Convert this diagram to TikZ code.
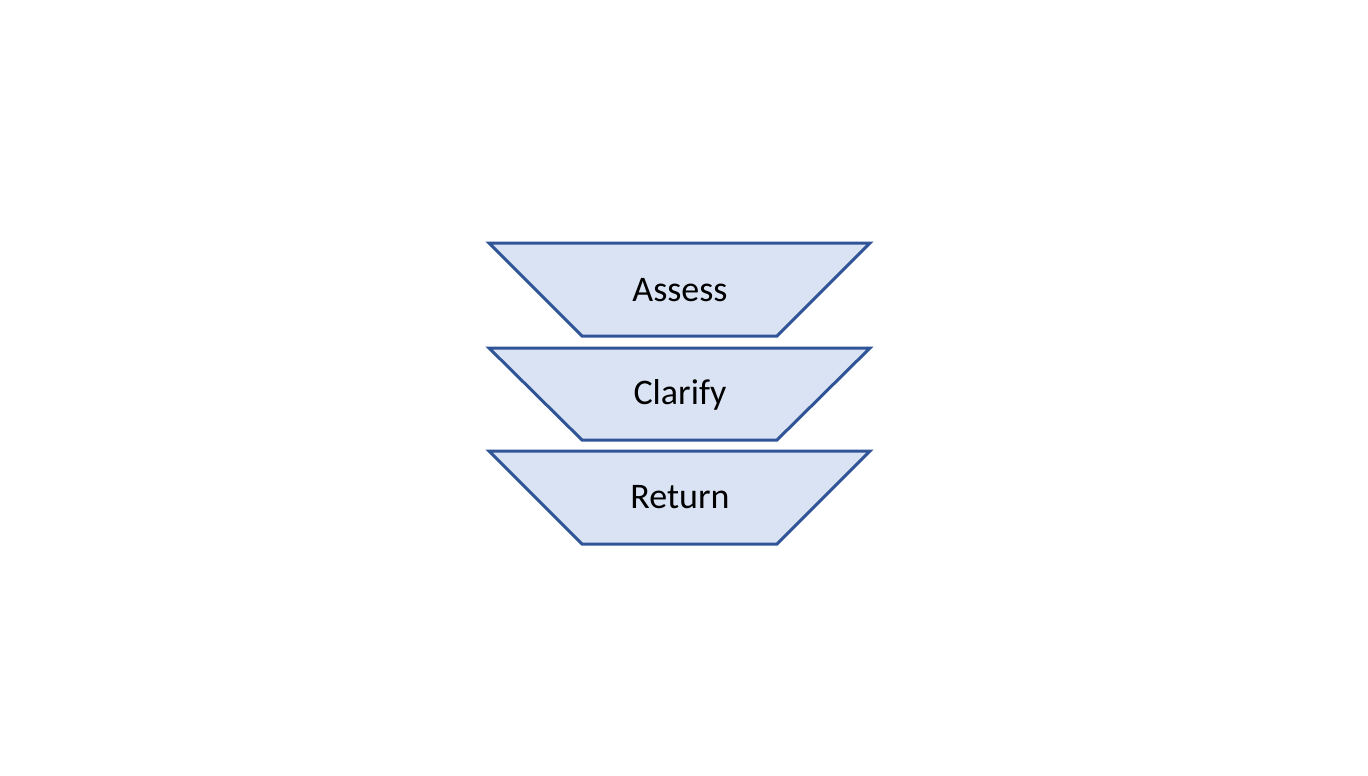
\documentclass[tikz,border=0pt]{standalone}
\usepackage{fontspec}
\setmainfont{Carlito}
\definecolor{tfill}{HTML}{DAE3F3}
\definecolor{tline}{HTML}{2F5597}
\begin{document}
\begin{tikzpicture}[x=1pt,y=-1pt,
  trap/.style={fill=tfill,draw=tline,line width=3pt,line join=miter},
  lbl/.style={anchor=base,font=\fontsize{36}{40}\selectfont,text=black,inner sep=0pt}]
\useasboundingbox (0,0) rectangle (1368,776);
\foreach \t/\b/\n in {243/336/a,348/440/c,451/544/r}{
  \draw[trap] (489,\t) -- (870,\t) -- (777,\b) -- (582,\b) -- cycle;
}
\node[lbl] (assess) at (680,301) {Assess};
\node[lbl] (clarify) at (680,404) {Clarify};
\node[lbl] (return) at (680,508) {Return};
\end{tikzpicture}
\end{document}
